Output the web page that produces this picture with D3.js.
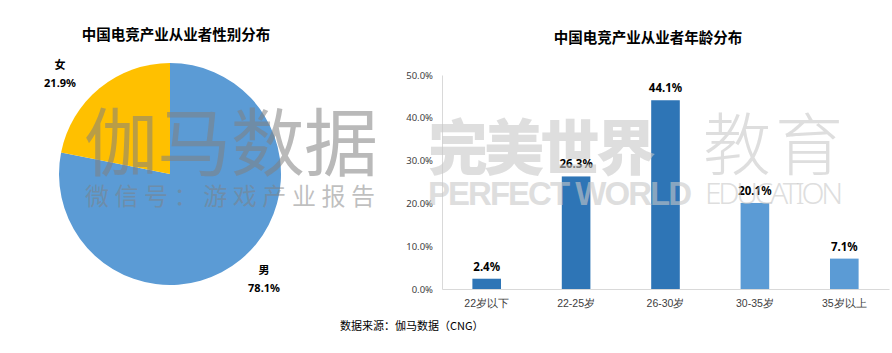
<!DOCTYPE html>
<html>
<head>
<meta charset="utf-8">
<script src="https://cdn.jsdelivr.net/npm/d3@7"></script>
<style>
  body { margin: 0; background: #fff; }
  svg { display: block; font-family: "Noto Sans CJK SC", "Noto Sans", sans-serif; }
</style>
</head>
<body>
<svg id="chart" width="892" height="353"></svg>
<script>
// gender split
var genders = ["男", "女"];
var genderShare = [78.1, 21.9];
var genderColors = ["#5b9bd5", "#ffc000"];

// age split
var ageGroups = ["22岁以下", "22-25岁", "26-30岁", "30-35岁", "35岁以上"];
var ageShare = [2.4, 26.3, 44.1, 20.1, 7.1];
var ageColors = ["#2e75b6", "#2e75b6", "#2e75b6", "#5b9bd5", "#5b9bd5"];
var yTicks = [0, 10, 20, 30, 40, 50];

var svg = d3.select("#chart");

// ---- pie ----
var pieG = svg.append("g").attr("transform", "translate(170,174)");
var r = 111;

var pie = d3.pie().sort(null).value(function (d) { return d; });
var arc = d3.arc().innerRadius(0).outerRadius(r);
var arcs = pie(genderShare);

pieG.selectAll("path")
    .data(arcs)
    .enter().append("path")
    .attr("d", arc)
    .attr("fill", function (d, i) { return genderColors[i]; });

// labels sit outside the pie
arcs.forEach(function (d, i) {
    var lx = i == 0 ? 94 : -110;
    var ly = i == 0 ? 100 : -105;
    var t = pieG.append("text")
        .attr("text-anchor", "middle")
        .attr("font-size", 11)
        .attr("font-weight", "bold")
        .attr("fill", "#000");
    t.append("tspan").attr("x", lx).attr("y", ly).text(genders[i]);
    t.append("tspan").attr("x", lx).attr("y", ly + 18)
        .attr("font-family", "'Noto Sans', sans-serif")
        .text(genderShare[i].toFixed(1) + "%");
});

svg.append("text")
    .attr("x", 176).attr("y", 40)
    .attr("text-anchor", "middle")
    .attr("font-size", 14.5).attr("font-weight", "bold")
    .text("中国电竞产业从业者性别分布");

// ---- bars ----
var x = d3.scaleBand().domain(ageGroups).range([442, 889]).paddingInner(0.68).paddingOuter(0.34);
var y = d3.scaleLinear().domain([0, 50]).range([289, 75]);

svg.append("text")
    .attr("x", 648).attr("y", 43)
    .attr("text-anchor", "middle")
    .attr("font-size", 14.5).attr("font-weight", "bold")
    .text("中国电竞产业从业者年龄分布");

var yAxis = svg.append("g")
    .attr("transform", "translate(442,0)")
    .call(d3.axisLeft(y).tickValues(yTicks).tickSize(0).tickPadding(9)
        .tickFormat(function (d) { return d.toFixed(1) + "%"; }));
yAxis.select(".domain").attr("stroke", "#d9d9d9");
yAxis.selectAll("text")
    .attr("font-family", "'Noto Sans', sans-serif")
    .attr("font-size", 9.5).attr("fill", "#404040");

svg.selectAll(".bar")
    .data(ageShare)
    .enter().append("rect")
    .attr("class", "bar")
    .attr("x", function (d, i) { return x(ageGroups[i]); })
    .attr("y", function (d) { return y(d); })
    .attr("width", x.bandwidth())
    .attr("height", function (d) { return y(0) - y(d); })
    .attr("fill", function (d, i) { return ageColors[i]; });

var xAxis = svg.append("g")
    .attr("transform", "translate(0,289)")
    .call(d3.axisBottom(x).tickSize(0).tickPadding(11));
xAxis.select(".domain").attr("stroke", "#d9d9d9");
xAxis.selectAll("text").attr("font-size", 10.5).attr("fill", "#404040");

svg.selectAll(".val")
    .data(ageShare)
    .enter().append("text")
    .attr("class", "val")
    .attr("x", function (d, i) { return x(ageGroups[i]) + x.bandwidth() / 2; })
    .attr("y", function (d) { return y(d) - 8; })
    .attr("text-anchor", "middle")
    .attr("font-family", "'Noto Sans', sans-serif")
    .attr("font-size", 11.5).attr("font-weight", "bold")
    .text(function (d) { return d.toFixed(1) + "%"; });

// source
svg.append("text")
    .attr("x", 340).attr("y", 330)
    .attr("font-size", 11).attr("fill", "#000")
    .text("数据来源：伽马数据（CNG）");

// ---- watermarks ----
var wm = svg.append("g").attr("pointer-events", "none");
wm.append("text")
    .attr("x", 84).attr("y", 170)
    .attr("font-size", 74).attr("font-weight", 400)
    .attr("fill", "#7f7f7f").attr("fill-opacity", 0.55)
    .attr("textLength", 294)
    .text("伽马数据");
wm.append("text")
    .attr("x", 85).attr("y", 205)
    .attr("font-size", 24).attr("font-weight", 400)
    .attr("fill", "#7f7f7f").attr("fill-opacity", 0.5)
    .attr("textLength", 290)
    .text("微信号：游戏产业报告");
wm.append("text")
    .attr("x", 428).attr("y", 170)
    .attr("font-size", 60).attr("font-weight", 900)
    .attr("fill", "#c8c8c8").attr("fill-opacity", 0.6)
    .attr("textLength", 228)
    .text("完美世界");
wm.append("text")
    .attr("x", 703).attr("y", 170)
    .attr("font-size", 68).attr("font-weight", 300)
    .attr("fill", "#c8c8c8").attr("fill-opacity", 0.6)
    .attr("textLength", 140)
    .text("教育");
wm.append("text")
    .attr("x", 428).attr("y", 205)
    .attr("font-family", "'Liberation Sans', sans-serif")
    .attr("font-size", 33).attr("font-weight", "bold")
    .attr("fill", "#c8c8c8").attr("fill-opacity", 0.6)
    .attr("textLength", 264)
    .text("PERFECT WORLD");
wm.append("text")
    .attr("x", 705).attr("y", 204)
    .attr("font-family", "'Noto Sans', sans-serif")
    .attr("font-size", 30).attr("font-weight", 300)
    .attr("fill", "#c8c8c8").attr("fill-opacity", 0.6)
    .attr("textLength", 138)
    .text("EDUCATION");
</script>
</body>
</html>
